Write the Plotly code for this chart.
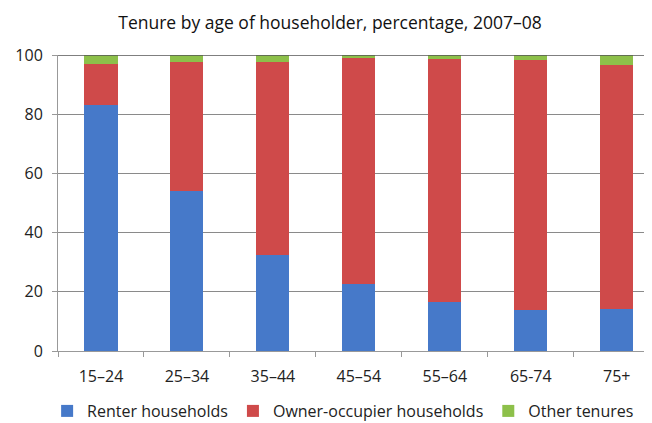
import plotly.graph_objects as go

# age groups of householder
age_groups = ["15–24", "25–34", "35–44", "45–54", "55–64", "65-74", "75+"]

# percentages
renter = [83, 54, 32.5, 22.5, 16.5, 14, 14.2]
owner = [14, 43.5, 65.3, 76.5, 82, 84.3, 82.4]
other = [3, 2.5, 2.2, 1, 1.5, 1.7, 3.4]

series = [
    ("Renter households", renter, "#4679C9"),
    ("Owner-occupier households", owner, "#CF4A4A"),
    ("Other tenures", other, "#8DC04A"),
]

fig = go.Figure()
for name, vals, col in series:
    fig.add_trace(go.Bar(
        x=age_groups,
        y=vals,
        name=name,
        marker=dict(color=col, line=dict(width=0)),
    ))

# the page body adds an 8px margin, so the figure is 8px smaller each way
W, H = 644, 415
fig.update_layout(
    barmode="stack",
    bargap=0.615,
    width=W,
    height=H,
    margin=dict(l=50, r=0, t=47, b=72, autoexpand=False),
    paper_bgcolor="white",
    plot_bgcolor="white",
    font=dict(family="Open Sans, Lato, sans-serif", size=15, color="#222"),
    title=dict(
        text="Tenure by age of householder, percentage, 2007–08",
        x=0.5, xref="container", xanchor="center",
        y=1 - 15 / H, yref="container", yanchor="middle",
        font=dict(size=17.5, color="#111"),
    ),
    legend=dict(
        orientation="h",
        x=0.48, xanchor="center",
        y=1 - 403 / H, yref="container", yanchor="middle",
        font=dict(size=16),
        traceorder="normal",
        itemwidth=30,
    ),
)

# darker line along the top of the plot, as in the source
fig.add_hline(y=100, line=dict(color="#555", width=1.5))

fig.update_xaxes(
    range=[-0.5, 6.41],
    showline=True, linecolor="#999", linewidth=1,
    ticks="outside", tickson="boundaries", ticklen=5, tickcolor="#999",
    ticklabelstandoff=11,
    tickfont=dict(size=16),
    showgrid=False,
)
fig.update_yaxes(
    range=[0, 100],
    tickvals=[0, 20, 40, 60, 80, 100],
    showline=True, linecolor="#999", linewidth=1,
    ticks="outside", ticklen=5, tickcolor="#999",
    ticklabelstandoff=6,
    tickfont=dict(size=16),
    showgrid=True, gridcolor="#8a8a8a", gridwidth=1,
    zeroline=False,
)

fig.write_html("out.html")
